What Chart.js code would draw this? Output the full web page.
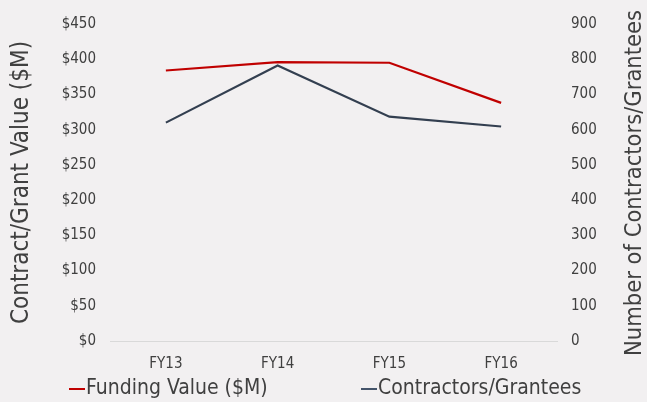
<!DOCTYPE html>
<html>
<head>
<meta charset="utf-8">
<script src="https://cdn.jsdelivr.net/npm/chart.js@4"></script>
<style>
  html, body { margin: 0; padding: 0; background: #F2F0F1; }
  #wrap { width: 647px; height: 402px; }
</style>
</head>
<body>
<div id="wrap"><canvas id="chart"></canvas></div>
<script>
"use strict";

const years = ['FY13', 'FY14', 'FY15', 'FY16'];
const fundingValue = [384, 396, 395, 338];
const contractors = [620, 782, 637, 609];
const leftTicks = [0, 50, 100, 150, 200, 250, 300, 350, 400, 450];
const rightTicks = [0, 100, 200, 300, 400, 500, 600, 700, 800, 900];

(() => {
  const canvas = document.getElementById('chart');
  const FONT = '"DejaVu Sans Condensed", "DejaVu Sans", sans-serif';
  const TEXT = '#404040';

  Chart.defaults.font.family = FONT;
  Chart.defaults.color = TEXT;

  // right axis title reads bottom-to-top, plus a flat legend like the original
  const extras = {
    id: 'extras',
    afterDraw(chart) {
      const ctx = chart.ctx;
      ctx.save();
      ctx.fillStyle = TEXT;
      ctx.font = '23.5px ' + FONT;
      ctx.textAlign = 'center';
      ctx.textBaseline = 'middle';
      ctx.translate(635, 183);
      ctx.rotate(-Math.PI / 2);
      ctx.fillText('Number of Contractors/Grantees', 0, 0);
      ctx.restore();

      ctx.save();
      ctx.font = '21px ' + FONT;
      ctx.textBaseline = 'middle';
      const starts = [69, 361];
      chart.data.datasets.forEach((ds, i) => {
        const x = starts[i];
        const y = 389;
        ctx.strokeStyle = ds.backgroundColor;
        ctx.lineWidth = 2;
        ctx.beginPath();
        ctx.moveTo(x, y);
        ctx.lineTo(x + 16, y);
        ctx.stroke();
        ctx.fillStyle = TEXT;
        ctx.fillText(ds.label, x + 17, y);
      });
      ctx.restore();
    }
  };

  new Chart(canvas, {
    type: 'line',
    data: {
      labels: years,
      datasets: [
        {
          label: 'Funding Value ($M)',
          data: fundingValue,
          yAxisID: 'y',
          borderColor: '#C00000',
          backgroundColor: '#C00000',
          borderWidth: 2.2,
          pointRadius: 0,
          tension: 0
        },
        {
          label: 'Contractors/Grantees',
          data: contractors,
          yAxisID: 'y2',
          borderColor: '#333F50',
          backgroundColor: '#44546A',
          borderWidth: 2.2,
          pointRadius: 0,
          tension: 0
        }
      ]
    },
    options: {
      responsive: true,
      maintainAspectRatio: false,
      animation: false,
      layout: { padding: { top: 24, left: 0, right: 0, bottom: 0 } },
      scales: {
        x: {
          offset: true,
          grid: { display: false },
          border: { display: true, color: '#D9D9D9' },
          ticks: { font: { size: 15 }, padding: 6 },
          afterFit: (axis) => { axis.height = 61; }
        },
        y: {
          position: 'left',
          min: 0,
          max: 450,
          afterBuildTicks: (axis) => { axis.ticks = leftTicks.map(v => ({ value: v })); },
          afterFit: (axis) => { axis.width = 110; },
          grid: { display: false },
          border: { display: false },
          ticks: { font: { size: 15 }, padding: 6, callback: (v) => '$' + v },
          title: { display: true, text: 'Contract/Grant Value ($M)', font: { size: 24 }, padding: { top: 7 } }
        },
        y2: {
          position: 'right',
          min: 0,
          max: 900,
          afterBuildTicks: (axis) => { axis.ticks = rightTicks.map(v => ({ value: v })); },
          afterFit: (axis) => { axis.width = 90; },
          grid: { display: false },
          border: { display: false },
          ticks: { font: { size: 15 }, padding: 6 }
        }
      },
      plugins: {
        legend: { display: false },
        tooltip: { enabled: false }
      }
    },
    plugins: [extras]
  });
})();
</script>
</body>
</html>
